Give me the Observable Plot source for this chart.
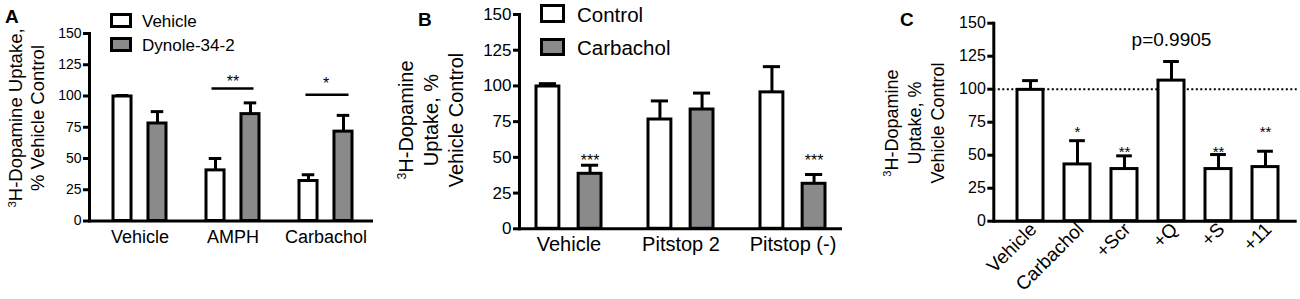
<!DOCTYPE html>
<html><head><meta charset="utf-8">
<script src="https://cdn.jsdelivr.net/npm/d3@7"></script>
<script src="https://cdn.jsdelivr.net/npm/@observablehq/plot@0.6"></script>
<style>
body{margin:0;background:#fff;}
#fig{position:relative;width:1300px;height:299px;overflow:hidden;font-family:"Liberation Sans",Arial,sans-serif;color:#000;background:#fff;}
.panel{position:absolute;top:0;}
.panel svg{overflow:visible;background:transparent;}
.letter{position:absolute;font-weight:bold;font-size:19px;line-height:1;}
.ytitle{position:absolute;white-space:nowrap;text-align:center;transform:translate(-50%,-50%) rotate(-90deg);}
.ytitle sup{font-size:0.62em;vertical-align:0.55em;line-height:0;}
.sw{position:absolute;box-sizing:border-box;border:3px solid #000;}
.lt{position:absolute;white-space:nowrap;line-height:1;transform:translateY(-50%);}
</style></head>
<body><div id="fig"></div>
<script>
// ---------------- data ----------------
const yTicks = [0, 25, 50, 75, 100, 125, 150];

// Panel A
const groupsA = ["Vehicle", "AMPH", "Carbachol"];
const seriesA = ["Vehicle", "Dynole-34-2"];
const vehicleA = [99.6, 40.5, 32];
const vehicleErrA = [0.8, 9.5, 5];
const dynoleA = [78, 85.5, 71.5];
const dynoleErrA = [9.5, 9, 13];
const sigGroupsA = ["AMPH", "Carbachol"];
const sigLineA = [106, 101];
const sigStarsA = ["**", "*"];
const sigStarYA = [111, 110];

// Panel B
const groupsB = ["Vehicle", "Pitstop 2", "Pitstop (-)"];
const seriesB = ["Control", "Carbachol"];
const controlB = [99.6, 76.5, 95.5];
const controlErrB = [2, 13, 18];
const carbB = [38.5, 83.5, 31.5];
const carbErrB = [6, 11.5, 6.5];
const starsB = ["***", "", "***"];
const starYB = [47.3, 0, 47.3];

// Panel C
const groupsC = ["Vehicle", "Carbachol", "+Scr", "+Q", "+S", "+11"];
const valuesC = [99.5, 43, 39.5, 106.5, 39.5, 41];
const errC = [7, 18, 10, 14.5, 11, 12];
const starsC = ["", "*", "**", "", "**", "**"];
const starYC = [0, 67.6, 52, 0, 52, 67.6];
const pLabelC = "p=0.9905";
const pGroupC = "+Q";
const pYC = 137.6;
const refLineC = 100;

// ---------------- helpers ----------------
const FONT = '"Liberation Sans", Arial, sans-serif';
const GRAY = "#8a8a8a";
function bandwidth(range, n, pi, po) { const step = range / Math.max(1, n - pi + 2 * po); return step * (1 - pi); }
const fig = document.getElementById("fig");
function place(node, left) { const d = document.createElement("div"); d.className = "panel"; d.style.left = left + "px"; d.appendChild(node); fig.appendChild(d); }
function html(cls, style, content) { const d = document.createElement("div"); d.className = cls; Object.assign(d.style, style); d.innerHTML = content; fig.appendChild(d); return d; }

function errMarks(data, bw, barW, side, cap) {
  // side: -1 left bar, +1 right bar, 0 full band
  const dx = side * (bw - barW) / 2;
  const c = side === 0 ? bw / 2 : (side < 0 ? barW / 2 : bw - barW / 2);
  return [
    Plot.ruleX(data, {x: "group", y1: "value", y2: d => d.value + d.err, dx, strokeWidth: 3}),
    Plot.tickY(data, {x: "group", y: d => d.value + d.err, insetLeft: c - cap / 2, insetRight: bw - c - cap / 2, strokeWidth: 3})
  ];
}

// ---------------- Panel A ----------------
{
  const W = 400, ml = 89, mr = 27, pi = 0.428, po = 0.233;
  const bw = bandwidth(W - ml - mr, groupsA.length, pi, po), barW = 18.5;
  const a0 = groupsA.map((g, i) => ({group: g, series: seriesA[0], value: vehicleA[i], err: vehicleErrA[i]}));
  const a1 = groupsA.map((g, i) => ({group: g, series: seriesA[1], value: dynoleA[i], err: dynoleErrA[i]}));
  const sig = sigGroupsA.map((g, i) => ({group: g, line: sigLineA[i], stars: sigStarsA[i], sy: sigStarYA[i]}));
  const p = Plot.plot({
    width: W, height: 299, marginLeft: ml, marginRight: mr, marginTop: 33, marginBottom: 78.5,
    style: {fontFamily: FONT, color: "#000", background: "transparent"},
    x: {domain: groupsA, paddingInner: pi, paddingOuter: po, align: 0.54},
    y: {domain: [0, 150]},
    marks: [
      Plot.barY(a0, {x: "group", y: "value", fill: "white", stroke: "black", strokeWidth: 3, strokeLinejoin: "miter", insetRight: bw - barW}),
      Plot.barY(a1, {x: "group", y: "value", fill: GRAY, stroke: "black", strokeWidth: 3, strokeLinejoin: "miter", insetLeft: bw - barW}),
      ...errMarks(a0, bw, barW, -1, 13),
      ...errMarks(a1, bw, barW, 1, 13),
      Plot.tickY(sig.slice(0, 1), {x: "group", y: "line", strokeWidth: 2.5, insetLeft: 5.5, insetRight: 5.5}),
      Plot.tickY(sig.slice(1), {x: "group", y: "line", strokeWidth: 2.5, insetLeft: 6.5, insetRight: 3.5}),
      Plot.text(sig, {x: "group", y: "sy", text: "stars", fontSize: 16}),
      Plot.ruleY([0], {strokeWidth: 3}),
      Plot.frame({anchor: "left", strokeWidth: 3}),
      Plot.axisY({ticks: yTicks, tickSize: 6, tickPadding: 2, fontSize: 14, strokeWidth: 3, label: null}),
      Plot.axisX({tickSize: 0, tickPadding: 9, fontSize: 18, label: null})
    ]
  });
  place(p, 0);
  html("letter", {left: "5px", top: "7px"}, "A");
  html("ytitle", {left: "26.5px", top: "118px", fontSize: "18.5px", lineHeight: "22px"}, "<sup>3</sup>H-Dopamine Uptake,<br>% Vehicle Control");
  html("sw", {left: "110px", top: "13px", width: "22px", height: "15px", background: "#fff"}, "");
  html("sw", {left: "110px", top: "37px", width: "22px", height: "15px", background: GRAY}, "");
  html("lt", {left: "142px", top: "21px", fontSize: "17px"}, seriesA[0]);
  html("lt", {left: "142px", top: "45px", fontSize: "17px"}, seriesA[1]);
}

// ---------------- Panel B ----------------
{
  const L = 430, W = 430, ml = 89, mr = 18, pi = 0.423, po = 0.149;
  const bw = bandwidth(W - ml - mr, groupsB.length, pi, po), barW = 22.7;
  const b0 = groupsB.map((g, i) => ({group: g, series: seriesB[0], value: controlB[i], err: controlErrB[i]}));
  const b1 = groupsB.map((g, i) => ({group: g, series: seriesB[1], value: carbB[i], err: carbErrB[i], stars: starsB[i], sy: starYB[i]}));
  const p = Plot.plot({
    width: W, height: 299, marginLeft: ml, marginRight: mr, marginTop: 14, marginBottom: 70.7,
    style: {fontFamily: FONT, color: "#000", background: "transparent"},
    x: {domain: groupsB, paddingInner: pi, paddingOuter: po, align: 0.5},
    y: {domain: [0, 150]},
    marks: [
      Plot.barY(b0, {x: "group", y: "value", fill: "white", stroke: "black", strokeWidth: 3, strokeLinejoin: "miter", insetRight: bw - barW}),
      Plot.barY(b1, {x: "group", y: "value", fill: GRAY, stroke: "black", strokeWidth: 3, strokeLinejoin: "miter", insetLeft: bw - barW}),
      ...errMarks(b0, bw, barW, -1, 17),
      ...errMarks(b1, bw, barW, 1, 17),
      Plot.text(b1.filter(d => d.stars), {x: "group", y: "sy", text: "stars", fontSize: 16, dx: (bw - barW) / 2}),
      Plot.ruleY([0], {strokeWidth: 3}),
      Plot.frame({anchor: "left", strokeWidth: 3}),
      Plot.axisY({ticks: yTicks, tickSize: 6, tickPadding: 2, fontSize: 17, strokeWidth: 3, label: null}),
      Plot.axisX({tickSize: 0, tickPadding: 8, fontSize: 20, label: null})
    ]
  });
  place(p, L);
  html("letter", {left: "418px", top: "10px"}, "B");
  html("ytitle", {left: "431px", top: "120px", fontSize: "20px", lineHeight: "25px"}, "<sup>3</sup>H-Dopamine<br>Uptake, %<br>Vehicle Control");
  html("sw", {left: "540px", top: "4px", width: "25px", height: "19px", background: "#fff"}, "");
  html("sw", {left: "540px", top: "38px", width: "25px", height: "18px", background: GRAY}, "");
  html("lt", {left: "577px", top: "15px", fontSize: "20.5px"}, seriesB[0]);
  html("lt", {left: "577px", top: "48px", fontSize: "20.5px"}, seriesB[1]);
}

// ---------------- Panel C ----------------
{
  const L = 860, W = 440, ml = 133.3, mr = 3.3, pi = 0.443, po = 0.437;
  const bw = bandwidth(W - ml - mr, groupsC.length, pi, po);
  const c = groupsC.map((g, i) => ({group: g, value: valuesC[i], err: errC[i], stars: starsC[i], sy: starYC[i]}));
  const p = Plot.plot({
    width: W, height: 299, marginLeft: ml, marginRight: mr, marginTop: 22.7, marginBottom: 78.3,
    style: {fontFamily: FONT, color: "#000", background: "transparent"},
    x: {domain: groupsC, paddingInner: pi, paddingOuter: po, align: 0.565},
    y: {domain: [0, 150]},
    marks: [
      Plot.ruleY([refLineC], {strokeWidth: 2, strokeDasharray: "2,2.5"}),
      Plot.barY(c, {x: "group", y: "value", fill: "white", stroke: "black", strokeWidth: 3, strokeLinejoin: "miter"}),
      ...errMarks(c, bw, bw, 0, 16),
      Plot.text(c.filter(d => d.stars), {x: "group", y: "sy", text: "stars", fontSize: 15}),
      Plot.text([{group: pGroupC, y: pYC, label: pLabelC}], {x: "group", y: "y", text: "label", fontSize: 19}),
      Plot.ruleY([0], {strokeWidth: 3}),
      Plot.frame({anchor: "left", strokeWidth: 3}),
      Plot.axisY({ticks: yTicks, tickSize: 6, tickPadding: 2, fontSize: 16, strokeWidth: 3, label: null}),
      Plot.axisX({tickSize: 0, tickPadding: 5, tickRotate: -45, fontSize: 19, dx: 3, label: null})
    ]
  });
  place(p, L);
  html("letter", {left: "900px", top: "10px"}, "C");
  html("ytitle", {left: "915px", top: "123px", fontSize: "18px", lineHeight: "23px"}, "<sup>3</sup>H-Dopamine<br>Uptake, %<br>Vehicle Control");
}
</script>
</body></html>
